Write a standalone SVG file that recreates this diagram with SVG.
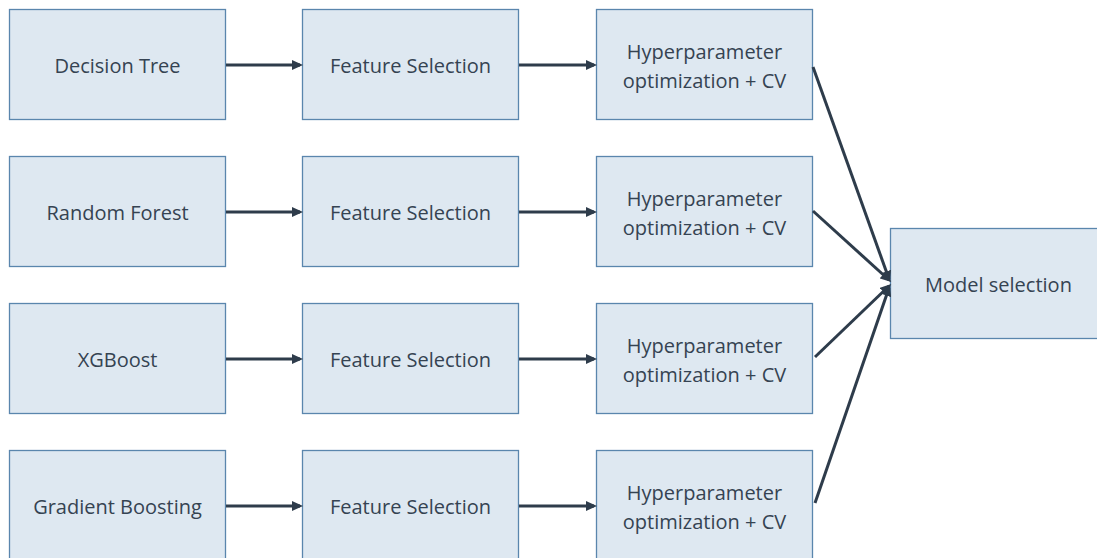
<svg xmlns="http://www.w3.org/2000/svg" width="1097" height="558" viewBox="0 0 1097 558">
<style>
.box{fill:#dee8f1;stroke:#5a86ad;stroke-width:1.3}
.t{font-family:"Open Sans","Noto Sans",sans-serif;font-size:20px;fill:#354352;text-anchor:middle;dominant-baseline:central}
.c{stroke:#2e3c4b;stroke-width:3;fill:none}
</style>
<defs>
<marker id="ah" markerWidth="11" markerHeight="10" refX="8" refY="5" orient="auto" markerUnits="userSpaceOnUse">
<path d="M0,0 L11,5 L0,10 Z" fill="#2e3c4b"/>
</marker>
</defs>
<rect width="1097" height="558" fill="#ffffff"/>
<g id="dt"><rect class="box" x="9.5" y="9.5" width="216" height="110"/><text class="t" x="117.5" y="65">Decision Tree</text></g>
<g id="fs1"><rect class="box" x="302.5" y="9.5" width="216" height="110"/><text class="t" x="410.5" y="65">Feature Selection</text></g>
<g id="hp1"><rect class="box" x="596.5" y="9.5" width="216" height="110"/><text class="t" x="704.5" y="51">Hyperparameter</text><text class="t" x="704.5" y="80">optimization + CV</text></g>
<g id="rf"><rect class="box" x="9.5" y="156.5" width="216" height="110"/><text class="t" x="117.5" y="212">Random Forest</text></g>
<g id="fs2"><rect class="box" x="302.5" y="156.5" width="216" height="110"/><text class="t" x="410.5" y="212">Feature Selection</text></g>
<g id="hp2"><rect class="box" x="596.5" y="156.5" width="216" height="110"/><text class="t" x="704.5" y="198">Hyperparameter</text><text class="t" x="704.5" y="227">optimization + CV</text></g>
<g id="xgb"><rect class="box" x="9.5" y="303.5" width="216" height="110"/><text class="t" x="117.5" y="359">XGBoost</text></g>
<g id="fs3"><rect class="box" x="302.5" y="303.5" width="216" height="110"/><text class="t" x="410.5" y="359">Feature Selection</text></g>
<g id="hp3"><rect class="box" x="596.5" y="303.5" width="216" height="110"/><text class="t" x="704.5" y="345">Hyperparameter</text><text class="t" x="704.5" y="374">optimization + CV</text></g>
<g id="gb"><rect class="box" x="9.5" y="450.5" width="216" height="110"/><text class="t" x="117.5" y="506">Gradient Boosting</text></g>
<g id="fs4"><rect class="box" x="302.5" y="450.5" width="216" height="110"/><text class="t" x="410.5" y="506">Feature Selection</text></g>
<g id="hp4"><rect class="box" x="596.5" y="450.5" width="216" height="110"/><text class="t" x="704.5" y="492">Hyperparameter</text><text class="t" x="704.5" y="521">optimization + CV</text></g>
<g id="ms"><rect class="box" x="890.5" y="228.5" width="216" height="110"/><text class="t" x="998.5" y="284">Model selection</text></g>
<g id="connectors">
<line class="c" x1="226" y1="65" x2="300" y2="65" marker-end="url(#ah)"/>
<line class="c" x1="519" y1="65" x2="594" y2="65" marker-end="url(#ah)"/>
<line class="c" x1="226" y1="212" x2="300" y2="212" marker-end="url(#ah)"/>
<line class="c" x1="519" y1="212" x2="594" y2="212" marker-end="url(#ah)"/>
<line class="c" x1="226" y1="359" x2="300" y2="359" marker-end="url(#ah)"/>
<line class="c" x1="519" y1="359" x2="594" y2="359" marker-end="url(#ah)"/>
<line class="c" x1="226" y1="506" x2="300" y2="506" marker-end="url(#ah)"/>
<line class="c" x1="519" y1="506" x2="594" y2="506" marker-end="url(#ah)"/>
<line class="c" x1="813" y1="67" x2="889" y2="279" marker-end="url(#ah)"/>
<line class="c" x1="813" y1="211" x2="889" y2="280" marker-end="url(#ah)"/>
<line class="c" x1="815" y1="357" x2="889" y2="286" marker-end="url(#ah)"/>
<line class="c" x1="815" y1="503" x2="889" y2="288" marker-end="url(#ah)"/>
</g>
</svg>
